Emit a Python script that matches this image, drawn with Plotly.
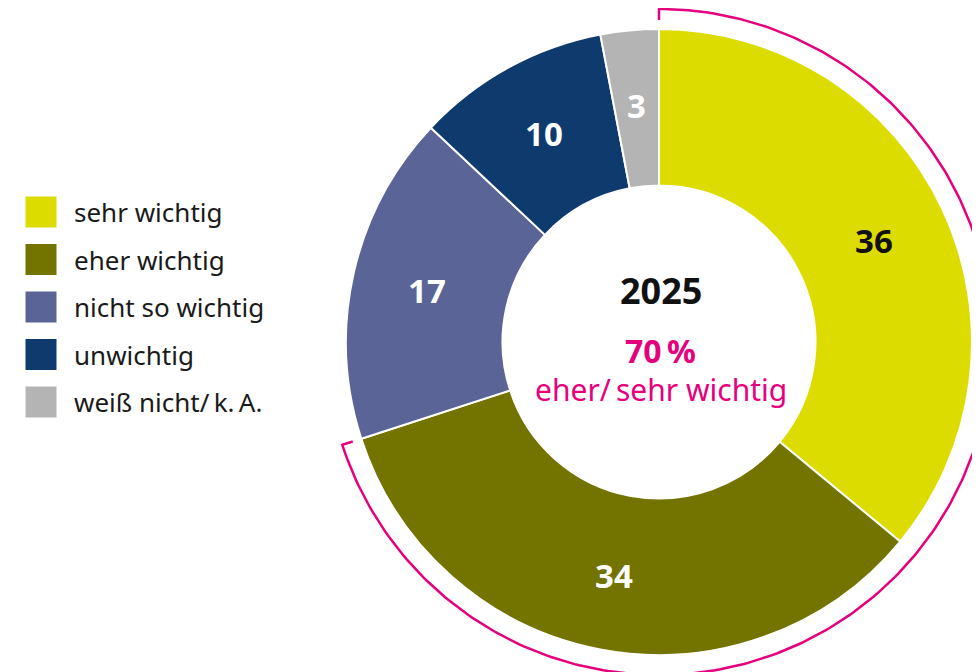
import numpy as np
import plotly.graph_objects as go

categories = ["sehr wichtig", "eher wichtig", "nicht so wichtig", "unwichtig", "weiß nicht/\u2009k.\u2009A."]
values = [36, 34, 17, 10, 3]
colors = ["#DCDC00", "#737300", "#5A6496", "#0F3A6E", "#B4B4B4"]
label_colors = ["#111111", "#FFFFFF", "#FFFFFF", "#FFFFFF", "#FFFFFF"]
year_label = "2025"
highlight_label = "eher/\u2009sehr wichtig"
highlight_share = values[0] + values[1]

W, H = 980, 672
OFF = 8  # page body margin
cx, cy, R = 659, 342, 313
MAGENTA = "#E5007D"
FONT = "Noto Sans"

fig = go.Figure()

fig.add_trace(go.Pie(
    values=values, labels=categories, sort=False, direction="clockwise", rotation=0,
    hole=0.5, marker=dict(colors=colors, line=dict(color="white", width=2)),
    textinfo="none",
    domain=dict(x=[(cx - OFF - R) / W, (cx - OFF + R) / W],
                y=[(H - (cy - OFF) - R) / H, (H - (cy - OFF) + R) / H]),
    showlegend=False, hoverinfo="label+value",
))

# slice value labels at mid-ring radius
total = sum(values)
annotations = []
r_lab = 238
cum = 0
for v, tc in zip(values, label_colors):
    a = 2 * np.pi * (cum + v / 2) / total
    cum += v
    annotations.append(dict(x=cx + r_lab * np.sin(a), y=cy - r_lab * np.cos(a), xref="x", yref="y",
                            text=f"<b>{v}</b>", showarrow=False,
                            font=dict(family=FONT, size=33, color=tc)))

# highlight bracket arc (share of first two categories)
r_arc, r_tick = R + 20, R + 9
theta = np.linspace(0, 2 * np.pi * highlight_share / 100, 300)
ax = list(cx + r_arc * np.sin(theta))
ay = list(cy - r_arc * np.cos(theta))
ax = [cx + r_tick * np.sin(theta[0])] + ax + [cx + r_tick * np.sin(theta[-1])]
ay = [cy - r_tick * np.cos(theta[0])] + ay + [cy - r_tick * np.cos(theta[-1])]
fig.add_trace(go.Scatter(x=ax, y=ay, mode="lines", line=dict(color=MAGENTA, width=2.5),
                         showlegend=False, hoverinfo="skip"))

# legend
ly0, ldy = 212, 47.5
fig.add_trace(go.Scatter(
    x=[41] * len(categories), y=[ly0 + i * ldy for i in range(len(categories))],
    mode="markers", marker=dict(symbol="square", size=31, color=colors, line=dict(width=0)),
    showlegend=False, hoverinfo="skip"))
for i, c in enumerate(categories):
    annotations.append(dict(x=72, y=ly0 + i * ldy, xref="x", yref="y", text=c, showarrow=False,
                            xanchor="left", yanchor="middle",
                            font=dict(family=FONT, size=26, color="#1a1a1a")))

annotations.append(dict(x=661, y=290, xref="x", yref="y", text=f"<b>{year_label}</b>", showarrow=False,
                        font=dict(family=FONT, size=36, color="#111111")))
annotations.append(dict(x=660, y=350, xref="x", yref="y", text=f"<b>{highlight_share}\u2009%</b>", showarrow=False,
                        font=dict(family=FONT, size=32, color=MAGENTA)))
annotations.append(dict(x=661, y=389, xref="x", yref="y", text=highlight_label, showarrow=False,
                        font=dict(family=FONT, size=30, color=MAGENTA)))

fig.update_layout(
    width=W, height=H, margin=dict(l=0, r=0, t=0, b=0),
    paper_bgcolor="white", plot_bgcolor="white",
    xaxis=dict(range=[OFF, W + OFF], visible=False, fixedrange=True),
    yaxis=dict(range=[H + OFF, OFF], visible=False, fixedrange=True),
    annotations=annotations,
)

fig.write_html("out.html")
